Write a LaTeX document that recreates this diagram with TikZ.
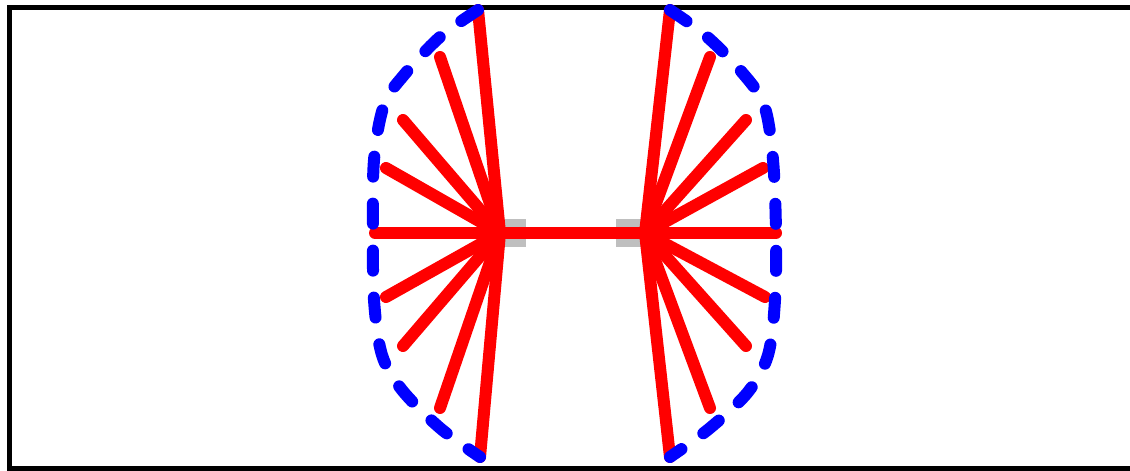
\documentclass[tikz,border=0pt]{standalone}
\begin{document}
\begin{tikzpicture}[x=1pt,y=-1pt,
  frame/.style={draw=black,line width=5pt},
  hubsq/.style={fill=black!25,draw=none,minimum width=28pt,minimum height=28pt,inner sep=0pt},
  spoke/.style={draw=red,line width=12pt,line cap=round},
  rim/.style={draw=blue,line width=12pt,line cap=round,dash pattern=on 20pt off 27pt}]
\useasboundingbox (0,0) rectangle (1130,471);
\draw[frame] (1140,7.5) -- (9,7.5) -- (9,468) -- (1140,468);
\node[hubsq] (sqL) at (512,233) {};
\node[hubsq] (sqR) at (630,233) {};
\coordinate (hL) at (500,233);
\coordinate (hR) at (645,233);
\foreach \n/\p in {1/{478,10},2/{440,57},3/{403,120},4/{386,168},5/{375,233},6/{386,297},7/{403,346},8/{440,408},9/{480,457}}
  \coordinate (L\n) at (\p);
\foreach \n/\p in {1/{670,10},2/{710,57},3/{746,120},4/{763,168},5/{776,233},6/{765,297},7/{746,346},8/{710,408},9/{670,457}}
  \coordinate (R\n) at (\p);
\foreach \n in {1,...,9} {
  \draw[spoke] (hL) -- (L\n);
  \draw[spoke] (hR) -- (R\n);
}
\draw[spoke] (hL) -- (hR);
\draw[rim] plot[smooth,tension=0.55] coordinates {(478,10) (440,37) (404,75) (384,105) (374,160) (373,233) (374,300) (382,355) (402,390) (440,428) (480,457)};
\draw[rim] plot[smooth,tension=0.55] coordinates {(670,10) (705,35) (740,70) (764,105) (773,160) (776,233) (775,300) (768,355) (748,392) (710,428) (670,457)};
\end{tikzpicture}
\end{document}
